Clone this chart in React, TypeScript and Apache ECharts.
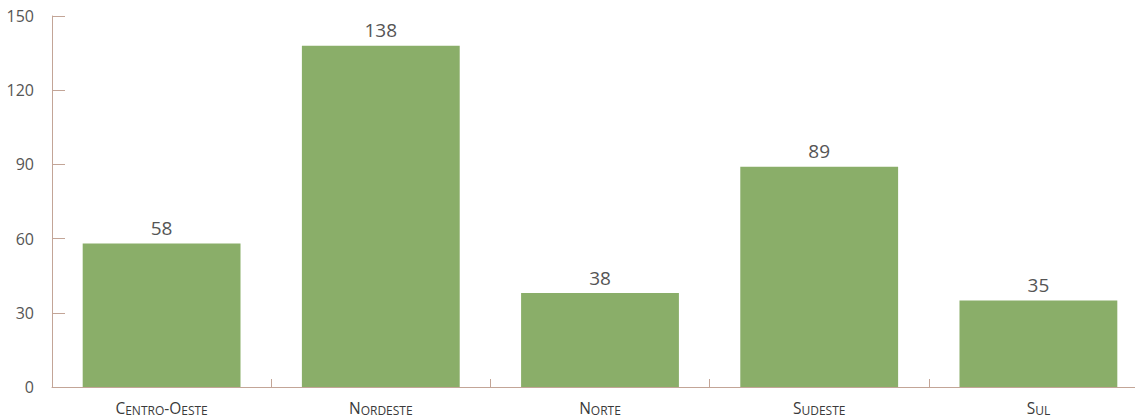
import React, { useEffect, useRef } from "react";
import * as echarts from "echarts";

const categories = ["Centro-Oeste", "Nordeste", "Norte", "Sudeste", "Sul"];
const values = [58, 138, 38, 89, 35];
const yTicks = [0, 30, 60, 90, 120, 150];

const FONT = "'Open Sans', 'Noto Sans', sans-serif";
const AXIS_COLOR = "#c3a597";

function smallCaps(s: string): string {
  let out = "";
  for (const ch of s) {
    if (ch >= "a" && ch <= "z") out += "{s|" + ch.toUpperCase() + "}";
    else out += "{b|" + ch + "}";
  }
  return out;
}

export default function App() {
  const ref = useRef<HTMLDivElement>(null);
  useEffect(() => {
    if (!ref.current) return;
    const chart = echarts.init(ref.current, undefined, { renderer: "svg" });
    chart.setOption({
      animation: false,
      grid: { left: 52, top: 16, bottom: 32, right: 2, containLabel: false },
      xAxis: {
        type: "category",
        data: categories,
        axisLine: { lineStyle: { color: AXIS_COLOR, width: 1 } },
        axisTick: { show: true, inside: true, length: 8, interval: 0, lineStyle: { color: AXIS_COLOR, width: 1 } },
        axisLabel: {
          interval: 0,
          margin: 13,
          color: "#3a3a3a",
          fontFamily: FONT,
          formatter: (v: string) => smallCaps(v),
          rich: {
            b: { fontSize: 15.5, fontFamily: FONT, color: "#3a3a3a", verticalAlign: "bottom" },
            s: { fontSize: 12, fontFamily: FONT, color: "#3a3a3a", verticalAlign: "bottom" },
          },
        },
      },
      yAxis: {
        type: "value",
        min: yTicks[0],
        max: yTicks[yTicks.length - 1],
        interval: 30,
        axisLine: { show: true, lineStyle: { color: AXIS_COLOR, width: 1 } },
        axisTick: { show: true, inside: true, length: 13, lineStyle: { color: AXIS_COLOR } },
        splitLine: { show: false },
        axisLabel: { margin: 18, color: "#555", fontSize: 16, fontFamily: FONT },
      },
      series: [
        {
          type: "bar",
          data: values,
          barCategoryGap: "28%",
          itemStyle: { color: "#8aae69" },
          label: {
            show: true,
            position: "top",
            distance: 6,
            color: "#555",
            fontSize: 19,
            fontFamily: FONT,
          },
        },
      ],
    });
    return () => chart.dispose();
  }, []);
  return (
    <div style={{ position: "absolute", left: 0, top: 0, width: 1135, height: 419, overflow: "hidden" }}>
      <div ref={ref} style={{ width: 1150, height: 419 }} />
    </div>
  );
}
